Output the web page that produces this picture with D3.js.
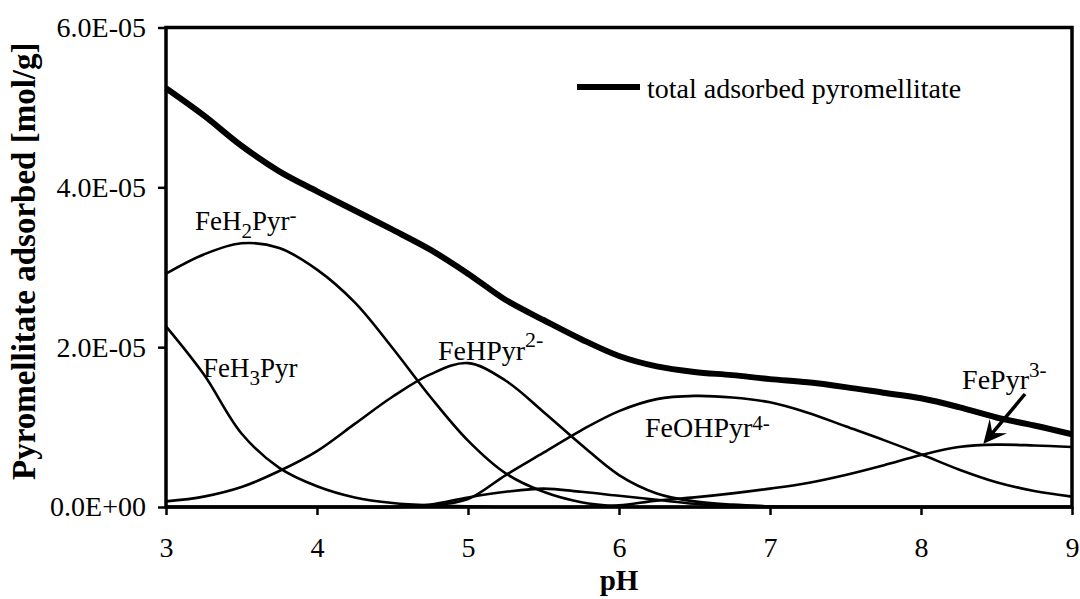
<!DOCTYPE html>
<html>
<head>
<meta charset="utf-8">
<script src="https://cdn.jsdelivr.net/npm/d3@7/dist/d3.min.js"></script>
<style>
  html, body { margin: 0; padding: 0; background: #fff; }
  svg { display: block; }
  text { font-family: "Liberation Serif", "Times New Roman", serif; fill: #000; }
</style>
</head>
<body>
<svg id="chart" width="1080" height="599"></svg>
<script>
// pH grid shared by all series
const pH = [3, 3.25, 3.5, 3.75, 4, 4.25, 4.5, 4.75, 5, 5.25, 5.5, 5.75, 6,
            6.25, 6.5, 6.75, 7, 7.25, 7.5, 7.75, 8, 8.25, 8.5, 8.75, 9];

// adsorbed amounts, in units of 1E-05 mol/g
const totalAdsorbed = [5.24, 4.90, 4.52, 4.20, 3.95, 3.71, 3.47, 3.22, 2.92, 2.59, 2.34, 2.10, 1.89,
                       1.76, 1.69, 1.65, 1.60, 1.56, 1.50, 1.43, 1.36, 1.25, 1.12, 1.02, 0.91];
const feH3Pyr  = [2.26, 1.66, 0.92, 0.49, 0.26, 0.12, 0.05, 0.02, 0.01, 0, 0, 0, 0,
                  0, 0, 0, 0, 0, 0, 0, 0, 0, 0, 0, 0];
const feH2Pyr  = [2.92, 3.16, 3.30, 3.24, 2.97, 2.56, 1.99, 1.38, 0.83, 0.42, 0.19, 0.06, 0.01,
                  0, 0, 0, 0, 0, 0, 0, 0, 0, 0, 0, 0];
const feHPyr   = [0.07, 0.13, 0.25, 0.45, 0.70, 1.04, 1.38, 1.66, 1.80, 1.58, 1.19, 0.78, 0.40,
                  0.17, 0.07, 0.03, 0.01, 0, 0, 0, 0, 0, 0, 0, 0];
const feOHPyr  = [0, 0, 0, 0, 0, 0, 0, 0.02, 0.10, 0.40, 0.68, 0.96, 1.20,
                  1.35, 1.39, 1.37, 1.31, 1.18, 1.01, 0.84, 0.66, 0.47, 0.31, 0.20, 0.13];
const fePyr    = [0, 0, 0, 0, 0, 0, 0, 0, 0, 0, 0, 0, 0.02,
                  0.08, 0.12, 0.17, 0.23, 0.30, 0.40, 0.52, 0.65, 0.75, 0.78, 0.77, 0.75];
const minorSpecies = [0, 0, 0, 0, 0, 0, 0, 0.03, 0.12, 0.19, 0.23, 0.19, 0.14,
                      0.09, 0.04, 0.01, 0, 0, 0, 0, 0, 0, 0, 0, 0];

// axis ticks and labels
const xTicks = [3, 4, 5, 6, 7, 8, 9];
const yTicks = [0, 2, 4, 6];
const yTickLabels = ["0.0E+00", "2.0E-05", "4.0E-05", "6.0E-05"];

const svg = d3.select("#chart");
const plotLeft = 166, plotRight = 1072, plotTop = 27.5, plotBottom = 507;

const x = d3.scaleLinear().domain([3, 9]).range([plotLeft, plotRight]);
const y = d3.scaleLinear().domain([0, 6]).range([plotBottom, plotTop]);

const line = d3.line()
  .x((d, i) => x(pH[i]))
  .y(d => y(d))
  .curve(d3.curveCatmullRom.alpha(0.5));

const plot = svg.append("g");

// species curves
[feH3Pyr, feH2Pyr, feHPyr, feOHPyr, fePyr, minorSpecies].forEach(s => {
  plot.append("path")
    .datum(s)
    .attr("d", line)
    .attr("fill", "none")
    .attr("stroke", "#000")
    .attr("stroke-width", 2.6)
    .attr("stroke-linejoin", "round");
});

// total adsorbed
plot.append("path")
  .datum(totalAdsorbed)
  .attr("d", line)
  .attr("fill", "none")
  .attr("stroke", "#000")
  .attr("stroke-width", 6)
  .attr("stroke-linejoin", "round");

// frame
svg.append("rect")
  .attr("x", plotLeft).attr("y", plotTop)
  .attr("width", plotRight - plotLeft).attr("height", plotBottom - plotTop)
  .attr("fill", "none").attr("stroke", "#000").attr("stroke-width", 3.5);

// axes
const yAxis = svg.append("g")
  .attr("transform", `translate(${plotLeft},0)`)
  .call(d3.axisLeft(y).tickValues(yTicks).tickSize(8).tickPadding(12)
        .tickFormat((d, i) => yTickLabels[i]));
const xAxis = svg.append("g")
  .attr("transform", `translate(0,${plotBottom})`)
  .call(d3.axisBottom(x).tickValues(xTicks).tickSize(8).tickPadding(22)
        .tickFormat(d3.format("d")));
[yAxis, xAxis].forEach(a => {
  a.select(".domain").remove();
  a.selectAll(".tick line").attr("stroke", "#000").attr("stroke-width", 2.5);
  a.selectAll(".tick text")
    .style("font-family", '"Liberation Serif", "Times New Roman", serif')
    .style("font-size", "28px").attr("fill", "#000");
});

// axis titles
svg.append("text")
  .attr("transform", `translate(35,${(plotTop + plotBottom) / 2 - 6}) rotate(-90)`)
  .attr("text-anchor", "middle")
  .style("font-size", "33px").style("font-weight", "bold")
  .text("Pyromellitate adsorbed [mol/g]");
svg.append("text")
  .attr("x", (plotLeft + plotRight) / 2).attr("y", 590)
  .attr("text-anchor", "middle")
  .style("font-size", "29px").style("font-weight", "bold")
  .text("pH");

// species labels with sub/superscripts
function label(px, v, parts) {
  const t = svg.append("text").attr("x", x(px)).attr("y", y(v)).style("font-size", "27px");
  parts.forEach(p => {
    const s = t.append("tspan").text(p.t);
    if (p.dy) s.attr("dy", p.dy);
    if (p.size) s.style("font-size", p.size + "px");
  });
}
label(3.192, 3.467, [{t: "FeH"}, {t: "2", size: 21, dy: 8}, {t: "Pyr", dy: -8}, {t: "-", size: 21, dy: -8}]);
label(3.245, 1.627, [{t: "FeH"}, {t: "3", size: 21, dy: 8}, {t: "Pyr", dy: -8}]);
label(4.801, 1.840, [{t: "FeHPyr", size: 28}, {t: "2-", size: 22, dy: -13}]);
label(6.172, 0.876, [{t: "FeOHPyr", size: 28}, {t: "4-", size: 21, dy: -7}]);
label(8.272, 1.477, [{t: "FePyr", size: 28}, {t: "3-", size: 21, dy: -12}]);

// arrow pointing at the FePyr3- curve
const arrowFrom = [8.689, 1.414], arrowTip = [8.413, 0.79];
const tx = x(arrowTip[0]), ty = y(arrowTip[1]);
const fx = x(arrowFrom[0]), fy = y(arrowFrom[1]);
const len = Math.hypot(fx - tx, fy - ty);
const ux = (fx - tx) / len, uy = (fy - ty) / len;
const headLen = 26, notch = 14, spread = 0.45;
const rot = (a) => [ux * Math.cos(a) - uy * Math.sin(a), ux * Math.sin(a) + uy * Math.cos(a)];
const b1 = rot(spread), b2 = rot(-spread);
svg.append("line")
  .attr("x1", fx).attr("y1", fy)
  .attr("x2", tx + ux * notch).attr("y2", ty + uy * notch)
  .attr("stroke", "#000").attr("stroke-width", 3.5);
svg.append("path")
  .attr("d", `M${tx},${ty} L${tx + b1[0] * headLen},${ty + b1[1] * headLen} L${tx + ux * notch},${ty + uy * notch} L${tx + b2[0] * headLen},${ty + b2[1] * headLen} Z`)
  .attr("fill", "#000");

// legend
svg.append("line")
  .attr("x1", 577).attr("x2", 640).attr("y1", 87).attr("y2", 87)
  .attr("stroke", "#000").attr("stroke-width", 6);
svg.append("text")
  .attr("x", 647).attr("y", 98)
  .style("font-size", "28px")
  .text("total adsorbed pyromellitate");
</script>
</body>
</html>
